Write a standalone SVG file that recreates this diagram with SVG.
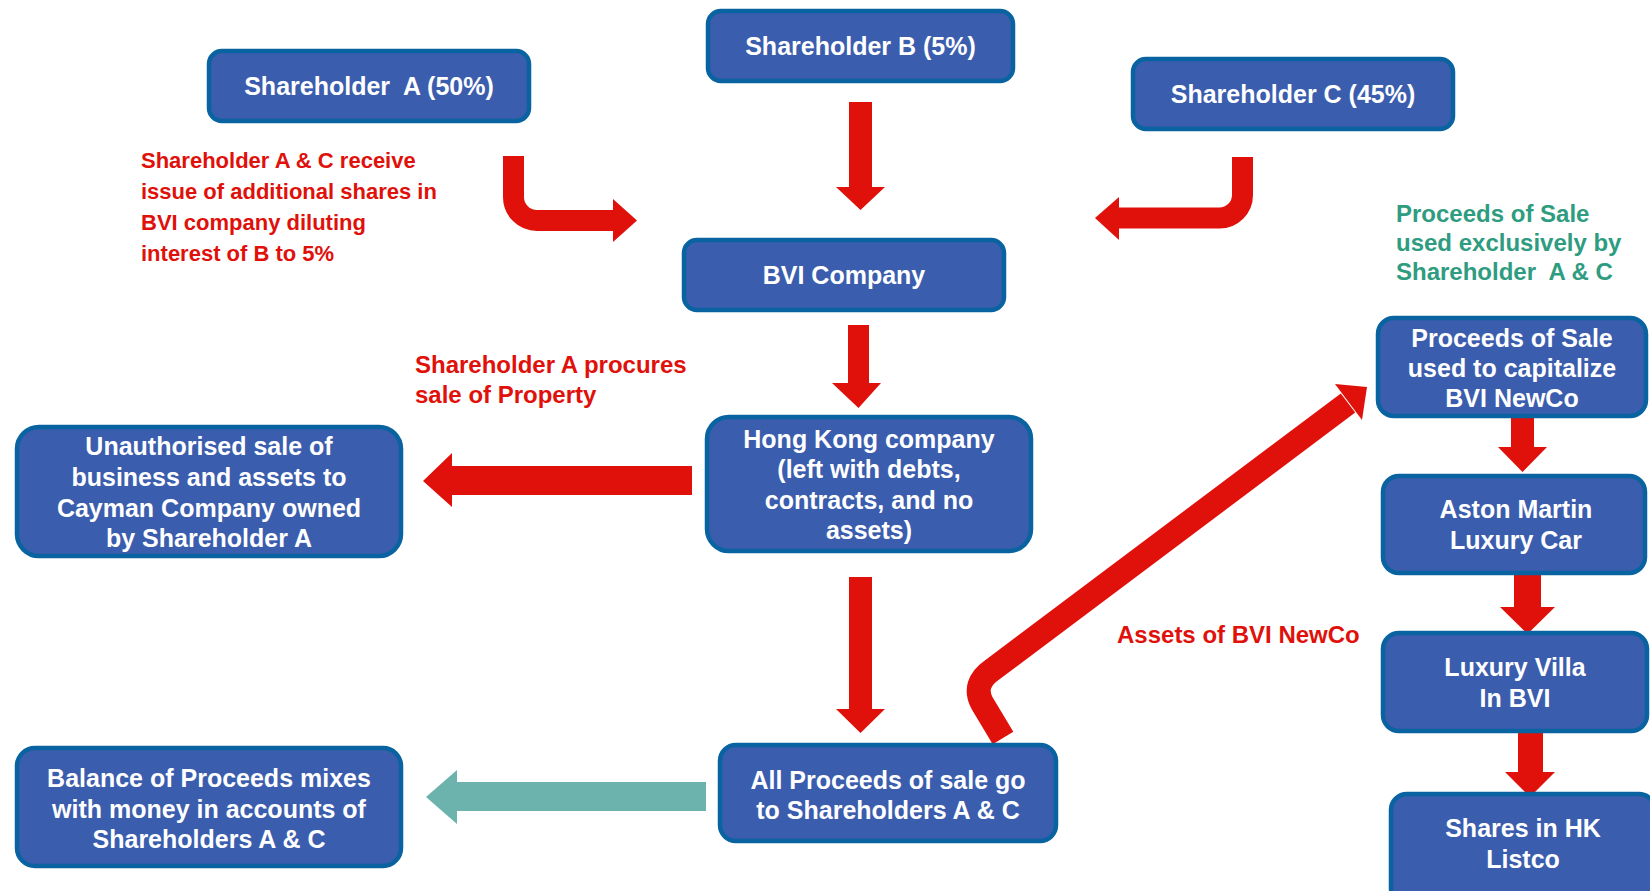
<svg xmlns="http://www.w3.org/2000/svg" width="1650" height="891" viewBox="0 0 1650 891">
<style>
.node rect{fill:#3B5DAE;stroke:#0A63A1;stroke-width:4.5}
.nt{font-family:"Liberation Sans",Arial,sans-serif;font-weight:bold;font-size:25px;fill:#FFFFFF;text-anchor:middle}
.red{fill:#E0100A}
.rl{font-family:"Liberation Sans",Arial,sans-serif;font-weight:bold;fill:#E0100A}
.gl{font-family:"Liberation Sans",Arial,sans-serif;font-weight:bold;font-size:24px;fill:#2E9C80}
.rs{fill:none;stroke:#E0100A}
</style>
<rect x="0" y="0" width="1650" height="891" fill="#FFFFFF"/>
<g id="connectors">
  <path class="rs" stroke-width="21" d="M513.5,156 V197 A23.5,23.5 0 0 0 537,220.5 H614"/>
  <polygon class="red" points="613,199 637,220.5 613,242"/>
  <path class="rs" stroke-width="21" d="M1242.5,157 V195 A23,23 0 0 1 1219.5,218 H1117"/>
  <polygon class="red" points="1119,197 1095,218 1119,240"/>
  <polygon class="red" points="849,102 872,102 872,187 885,187 860.5,210 836,187 849,187"/>
  <polygon class="red" points="848,325 869,325 869,383 881,383 858.5,408 832,383 848,383"/>
  <polygon class="red" points="849,577 872,577 872,709 885,709 860.5,733 836,709 849,709"/>
  <polygon class="red" points="692,466 692,495 452,495 452,507 423,481 452,453 452,466"/>
  <polygon fill="#6DB3AD" points="706,782 706,811 457,811 457,824 426,797 457,770 457,782"/>
  <polygon class="red" points="1511,417 1534,417 1534,447 1547,447 1522.5,472 1498,447 1511,447"/>
  <polygon class="red" points="1514,575 1541,575 1541,607 1555,607 1527.5,634 1500,607 1514,607"/>
  <polygon class="red" points="1518,733 1543,733 1543,772 1555,772 1530,797 1505,772 1518,772"/>
  <path class="rs" stroke-width="24" stroke-linejoin="round" d="M1003,738 L982,703 Q972,684 992,670 L1348,403"/>
  <polygon class="red" points="1335,384 1367,387 1362,420"/>
</g>
<g id="shA" class="node"><rect x="209" y="51" width="320" height="70" rx="13"/><text class="nt" x="369" y="95">Shareholder&#160; A (50%)</text></g>
<g id="shB" class="node"><rect x="708" y="11" width="305" height="70" rx="13"/><text class="nt" x="860.5" y="55" font-size="24">Shareholder B (5%)</text></g>
<g id="shC" class="node"><rect x="1133" y="59" width="320" height="70" rx="13"/><text class="nt" x="1293" y="103">Shareholder C (45%)</text></g>
<g id="bvi" class="node"><rect x="684" y="240" width="320" height="70" rx="13"/><text class="nt" x="844" y="284">BVI Company</text></g>
<g id="hk" class="node"><rect x="707" y="417" width="324" height="134" rx="22"/><text class="nt" x="869"><tspan x="869" y="448">Hong Kong company</tspan><tspan x="869" y="478">(left with debts,</tspan><tspan x="869" y="509">contracts, and no</tspan><tspan x="869" y="539">assets)</tspan></text></g>
<g id="unauth" class="node"><rect x="17" y="427" width="384" height="129" rx="22"/><text class="nt" x="209"><tspan x="209" y="455">Unauthorised sale of</tspan><tspan x="209" y="486">business and assets to</tspan><tspan x="209" y="517">Cayman Company owned</tspan><tspan x="209" y="547">by Shareholder A</tspan></text></g>
<g id="balance" class="node"><rect x="17" y="748" width="384" height="118" rx="18"/><text class="nt" x="209"><tspan x="209" y="787">Balance of Proceeds mixes</tspan><tspan x="209" y="818">with money in accounts of</tspan><tspan x="209" y="848">Shareholders A &amp; C</tspan></text></g>
<g id="allproceeds" class="node"><rect x="720" y="745" width="336" height="96" rx="16"/><text class="nt" x="888"><tspan x="888" y="789">All Proceeds of sale go</tspan><tspan x="888" y="819">to Shareholders A &amp; C</tspan></text></g>
<g id="capitalize" class="node"><rect x="1378" y="318" width="268" height="98" rx="16"/><text class="nt" x="1512"><tspan x="1512" y="347">Proceeds of Sale</tspan><tspan x="1512" y="377">used to capitalize</tspan><tspan x="1512" y="407">BVI NewCo</tspan></text></g>
<g id="aston" class="node"><rect x="1383" y="476" width="262" height="97" rx="16"/><text class="nt" x="1516"><tspan x="1516" y="518">Aston Martin</tspan><tspan x="1516" y="549">Luxury Car</tspan></text></g>
<g id="villa" class="node"><rect x="1383" y="633" width="264" height="98" rx="16"/><text class="nt" x="1515"><tspan x="1515" y="676">Luxury Villa</tspan><tspan x="1515" y="707">In BVI</tspan></text></g>
<g id="shares" class="node"><rect x="1391" y="794" width="264" height="110" rx="16"/><text class="nt" x="1523"><tspan x="1523" y="837">Shares in HK</tspan><tspan x="1523" y="868">Listco</tspan></text></g>
<g id="labels">
  <text class="rl" font-size="22"><tspan x="141" y="168">Shareholder A &amp; C receive</tspan><tspan x="141" y="199">issue of additional shares in</tspan><tspan x="141" y="230">BVI company diluting</tspan><tspan x="141" y="261">interest of B to 5%</tspan></text>
  <text class="rl" font-size="24"><tspan x="415" y="373">Shareholder A procures</tspan><tspan x="415" y="403">sale of Property</tspan></text>
  <text class="rl" font-size="24" x="1117" y="643">Assets of BVI NewCo</text>
  <text class="gl"><tspan x="1396" y="222">Proceeds of Sale</tspan><tspan x="1396" y="251">used exclusively by</tspan><tspan x="1396" y="280">Shareholder&#160; A &amp; C</tspan></text>
</g>
</svg>
